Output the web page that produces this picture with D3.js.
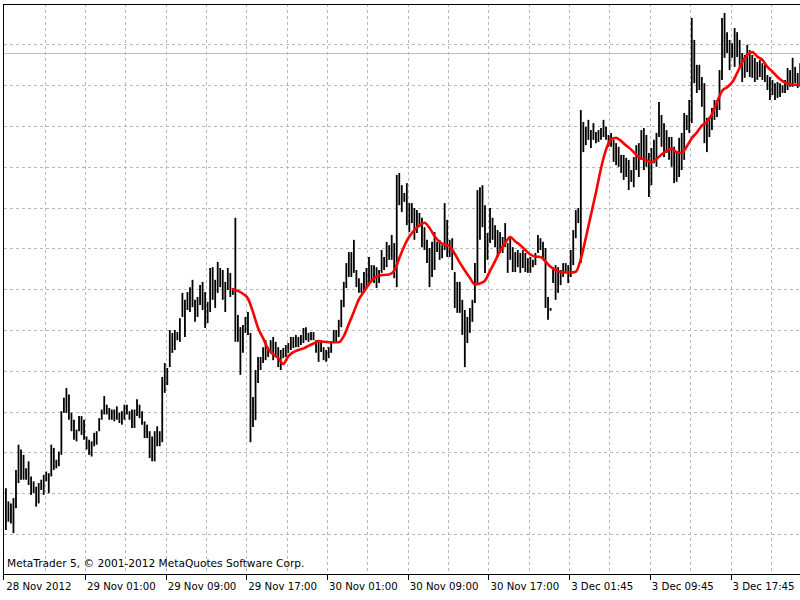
<!DOCTYPE html>
<html><head><meta charset="utf-8">
<script src="https://cdn.jsdelivr.net/npm/d3@7"></script>
<style>html,body{margin:0;padding:0;background:#fff;overflow:hidden}</style>
</head><body>
<svg id="chart" width="800" height="600"></svg>
<script>
// ---------- data ----------
const timeLabels = ["28 Nov 2012","29 Nov 01:00","29 Nov 09:00","29 Nov 17:00","30 Nov 01:00","30 Nov 09:00","30 Nov 17:00","3 Dec 01:45","3 Dec 09:45","3 Dec 17:45"];
const barsPerLabel = 32;
const barsPerGrid = 16;
const gridPrices = [1.2920,1.2930,1.2940,1.2950,1.2960,1.2970,1.2980,1.2990,1.3000,1.3010,1.3020,1.3030,1.3040];
const bidPrice = 1.30379;
const watermark = "MetaTrader 5, \u00A9 2001-2012 MetaQuotes Software Corp.";

const high = [
1.29312,1.29280,1.29275,1.29288,1.29357,1.29419,1.29407,1.29394,1.29361,1.29378,1.29341,1.29329,1.29316,1.29325,1.29333,1.29345,
1.29353,1.29349,1.29419,1.29411,1.29382,1.29402,1.29501,1.29534,1.29558,1.29542,1.29497,1.29480,1.29456,1.29489,1.29489,1.29480,
1.29439,1.29431,1.29427,1.29448,1.29452,1.29484,1.29505,1.29538,1.29517,1.29509,1.29505,1.29505,1.29513,1.29497,1.29501,1.29517,
1.29517,1.29501,1.29505,1.29505,1.29530,1.29517,1.29501,1.29476,1.29468,1.29452,1.29439,1.29452,1.29464,1.29452,1.29585,1.29619,
1.29607,1.29700,1.29693,1.29700,1.29695,1.29729,1.29791,1.29774,1.29793,1.29805,1.29823,1.29774,1.29781,1.29810,1.29818,1.29793,
1.29769,1.29852,1.29854,1.29823,1.29867,1.29852,1.29847,1.29818,1.29852,1.29840,1.29803,1.29975,1.29737,1.29707,1.29712,1.29732,
1.29744,1.29693,1.29536,1.29602,1.29634,1.29634,1.29658,1.29675,1.29658,1.29675,1.29683,1.29671,1.29658,1.29651,1.29656,1.29663,
1.29668,1.29683,1.29683,1.29688,1.29683,1.29688,1.29705,1.29707,1.29693,1.29695,1.29695,1.29675,1.29671,1.29675,1.29658,1.29651,
1.29658,1.29671,1.29700,1.29700,1.29725,1.29774,1.29818,1.29864,1.29891,1.29891,1.29921,1.29847,1.29827,1.29815,1.29842,1.29852,
1.29879,1.29859,1.29859,1.29854,1.29847,1.29896,1.29879,1.29916,1.29908,1.29933,1.29913,1.30080,1.30085,1.30055,1.30036,1.30060,
1.30011,1.30011,1.29999,1.29994,1.29987,1.29975,1.29952,1.29921,1.29901,1.29916,1.29940,1.29916,1.29921,1.29908,1.30011,1.29970,
1.29921,1.29925,1.29842,1.29818,1.29818,1.29774,1.29749,1.29732,1.29754,1.29774,1.29864,1.30043,1.30050,1.30055,1.30006,1.29938,
1.29999,1.29975,1.29957,1.29945,1.29940,1.29928,1.29962,1.29913,1.29925,1.29903,1.29891,1.29896,1.29889,1.29896,1.29889,1.29876,
1.29879,1.29872,1.29889,1.29933,1.29925,1.29916,1.29901,1.29781,1.29754,1.29854,1.29859,1.29854,1.29847,1.29864,1.29864,1.29859,
1.29896,1.29945,1.29994,1.29999,1.30239,1.30210,1.30198,1.30215,1.30190,1.30207,1.30185,1.30190,1.30195,1.30215,1.30198,1.30178,
1.30183,1.30166,1.30158,1.30149,1.30129,1.30129,1.30122,1.30117,1.30092,1.30124,1.30153,1.30158,1.30190,1.30195,1.30178,1.30134,
1.30146,1.30166,1.30183,1.30259,1.30227,1.30207,1.30190,1.30173,1.30173,1.30149,1.30134,1.30171,1.30183,1.30232,1.30227,1.30264,
1.30465,1.30411,1.30350,1.30350,1.30320,1.30305,1.30220,1.30222,1.30244,1.30264,1.30264,1.30337,1.30465,1.30477,1.30430,1.30411,
1.30403,1.30440,1.30430,1.30411,1.30379,1.30374,1.30399,1.30386,1.30374,1.30367,1.30357,1.30362,1.30354,1.30350,1.30325,1.30320,
1.30313,1.30305,1.30308,1.30305,1.30300,1.30313,1.30342,1.30337,1.30367,1.30345,1.30330,1.30354
];
const low = [
1.29210,1.29230,1.29226,1.29202,1.29263,1.29325,1.29333,1.29333,1.29333,1.29320,1.29296,1.29300,1.29267,1.29275,1.29308,1.29296,
1.29329,1.29300,1.29341,1.29357,1.29361,1.29366,1.29394,1.29497,1.29497,1.29480,1.29452,1.29431,1.29427,1.29452,1.29443,1.29431,
1.29407,1.29394,1.29390,1.29415,1.29419,1.29452,1.29480,1.29493,1.29493,1.29480,1.29480,1.29476,1.29480,1.29472,1.29468,1.29480,
1.29493,1.29480,1.29460,1.29460,1.29489,1.29484,1.29468,1.29435,1.29435,1.29386,1.29378,1.29378,1.29415,1.29415,1.29425,1.29546,
1.29565,1.29609,1.29644,1.29651,1.29675,1.29671,1.29732,1.29683,1.29749,1.29744,1.29756,1.29720,1.29732,1.29761,1.29749,1.29705,
1.29717,1.29744,1.29774,1.29754,1.29791,1.29805,1.29774,1.29744,1.29798,1.29781,1.29786,1.29671,1.29671,1.29590,1.29644,1.29693,
1.29688,1.29425,1.29462,1.29479,1.29570,1.29602,1.29619,1.29626,1.29634,1.29646,1.29626,1.29634,1.29609,1.29602,1.29631,1.29634,
1.29644,1.29651,1.29656,1.29658,1.29658,1.29663,1.29668,1.29675,1.29671,1.29675,1.29675,1.29644,1.29622,1.29646,1.29626,1.29622,
1.29631,1.29644,1.29668,1.29671,1.29683,1.29707,1.29756,1.29803,1.29830,1.29830,1.29840,1.29805,1.29791,1.29791,1.29791,1.29805,
1.29815,1.29823,1.29815,1.29803,1.29815,1.29840,1.29847,1.29854,1.29872,1.29872,1.29827,1.29805,1.30006,1.29989,1.30014,1.29957,
1.29940,1.29962,1.29921,1.29938,1.29952,1.29903,1.29896,1.29864,1.29805,1.29830,1.29847,1.29891,1.29872,1.29876,1.29896,1.29879,
1.29879,1.29847,1.29754,1.29742,1.29742,1.29688,1.29609,1.29668,1.29693,1.29720,1.29766,1.29815,1.29921,1.29952,1.29840,1.29872,
1.29913,1.29921,1.29903,1.29879,1.29889,1.29889,1.29903,1.29840,1.29872,1.29842,1.29842,1.29854,1.29840,1.29852,1.29842,1.29840,
1.29840,1.29854,1.29859,1.29889,1.29896,1.29872,1.29754,1.29725,1.29747,1.29815,1.29774,1.29791,1.29810,1.29830,1.29842,1.29815,
1.29830,1.29859,1.29925,1.29962,1.29864,1.30136,1.30153,1.30166,1.30146,1.30166,1.30158,1.30161,1.30166,1.30173,1.30166,1.30149,
1.30149,1.30112,1.30104,1.30100,1.30085,1.30068,1.30075,1.30043,1.30063,1.30050,1.30092,1.30075,1.30117,1.30092,1.30100,1.30026,
1.30055,1.30109,1.30100,1.30173,1.30149,1.30124,1.30134,1.30117,1.30100,1.30060,1.30063,1.30075,1.30092,1.30117,1.30190,1.30183,
1.30207,1.30305,1.30281,1.30288,1.30247,1.30158,1.30136,1.30173,1.30190,1.30215,1.30222,1.30239,1.30313,1.30367,1.30379,1.30337,
1.30367,1.30345,1.30369,1.30345,1.30308,1.30318,1.30332,1.30320,1.30318,1.30308,1.30313,1.30320,1.30313,1.30308,1.30288,1.30264,
1.30276,1.30264,1.30269,1.30271,1.30281,1.30281,1.30288,1.30296,1.30296,1.30305,1.30293,1.30296
];
// moving average (red), read every 2 bars starting at bar 90
const maFirstBar = 90;
const maStep = 2;
const maValues = [
1.29800,1.29796,1.29789,1.29777,1.29744,1.29705,1.29680,1.29653,1.29640,1.29631,
1.29617,1.29636,1.29646,1.29651,1.29655,1.29661,1.29667,1.29673,1.29671,1.29670,
1.29670,1.29670,1.29685,1.29715,1.29745,1.29775,1.29794,1.29813,1.29827,1.29833,
1.29835,1.29836,1.29845,1.29876,1.29906,1.29929,1.29945,1.29956,1.29963,1.29950,
1.29930,1.29916,1.29909,1.29905,1.29887,1.29865,1.29846,1.29828,1.29812,1.29814,
1.29821,1.29845,1.29869,1.29894,1.29913,1.29928,1.29917,1.29908,1.29896,1.29885,
1.29880,1.29879,1.29868,1.29855,1.29847,1.29842,1.29841,1.29841,1.29843,1.29874,
1.29926,1.29982,1.30037,1.30096,1.30142,1.30167,1.30171,1.30163,1.30152,1.30142,
1.30129,1.30120,1.30116,1.30111,1.30119,1.30130,1.30139,1.30144,1.30136,1.30134,
1.30150,1.30170,1.30184,1.30201,1.30210,1.30229,1.30258,1.30286,1.30295,1.30307,
1.30330,1.30356,1.30375,1.30381,1.30370,1.30362,1.30345,1.30333,1.30320,1.30310,
1.30304,1.30301,1.30301,1.30301
];

// ---------- layout ----------
const W = 800, H = 600;
const L = 4, T = 4, B = 574, R = 800;
const svg = d3.select("#chart");
const x = d3.scaleLinear().domain([0, barsPerLabel]).range([4.3, 84.99]);
const y = d3.scaleLinear().domain([1.2920, 1.3050]).range([534, 3.6]);
const barShift = 1.6;
const font = "'DejaVu Sans', Verdana, sans-serif";

svg.append("rect").attr("width", W).attr("height", H).attr("fill", "#fff");
svg.append("defs").append("clipPath").attr("id", "plot")
  .append("rect").attr("x", L).attr("y", T).attr("width", R - L).attr("height", B - T);

const plot = svg.append("g").attr("clip-path", "url(#plot)");

// grid
const nBars = high.length;
const vGrid = d3.range(barsPerGrid, nBars + barsPerGrid, barsPerGrid);
plot.append("g").selectAll("line").data(vGrid).join("line")
  .attr("x1", d => Math.round(x(d)) + 0.5).attr("x2", d => Math.round(x(d)) + 0.5)
  .attr("y1", T).attr("y2", B)
  .attr("stroke", "#b8b8b8").attr("stroke-width", 1).attr("stroke-dasharray", "3,3");
plot.append("g").selectAll("line").data(gridPrices).join("line")
  .attr("x1", L).attr("x2", R)
  .attr("y1", d => Math.round(y(d)) + 0.5).attr("y2", d => Math.round(y(d)) + 0.5)
  .attr("stroke", "#b8b8b8").attr("stroke-width", 1).attr("stroke-dasharray", "3,3");

// bid line
plot.append("line").attr("x1", L).attr("x2", R)
  .attr("y1", Math.round(y(bidPrice)) + 0.5).attr("y2", Math.round(y(bidPrice)) + 0.5)
  .attr("stroke", "#c0c0c0").attr("stroke-width", 1);

// bars
const bars = high.map((h, i) => ({ i, h, l: low[i] }));
plot.append("g").selectAll("line").data(bars).join("line")
  .attr("x1", d => x(d.i) + barShift).attr("x2", d => x(d.i) + barShift)
  .attr("y1", d => y(d.h)).attr("y2", d => y(d.l))
  .attr("stroke", "#000").attr("stroke-width", 1.8);

// moving average
const ma = maValues.map((v, k) => ({ i: maFirstBar + k * maStep, v }));
plot.append("path").datum(ma)
  .attr("fill", "none").attr("stroke", "#ff0000").attr("stroke-width", 2.6)
  .attr("stroke-linejoin", "round").attr("stroke-linecap", "round")
  .attr("d", d3.line().x(d => x(d.i) + barShift).y(d => y(d.v)).curve(d3.curveMonotoneX));

// frame
svg.append("line").attr("x1", L).attr("x2", R).attr("y1", T + 0.5).attr("y2", T + 0.5).attr("stroke", "#000");
svg.append("line").attr("x1", L).attr("x2", R).attr("y1", B + 0.5).attr("y2", B + 0.5).attr("stroke", "#000");
svg.append("line").attr("x1", L - 0.5).attr("x2", L - 0.5).attr("y1", T).attr("y2", B + 6).attr("stroke", "#000");

// time axis ticks & labels
const labelBars = timeLabels.map((t, k) => ({ t, i: k * barsPerLabel }));
const ax = svg.append("g");
ax.selectAll("line").data(labelBars.filter(d => d.i > 0)).join("line")
  .attr("x1", d => Math.round(x(d.i)) + 0.5).attr("x2", d => Math.round(x(d.i)) + 0.5)
  .attr("y1", B).attr("y2", B + 6).attr("stroke", "#000");
ax.selectAll("text").data(labelBars).join("text")
  .attr("x", d => x(d.i) + 2).attr("y", 590)
  .attr("font-family", font).attr("font-size", 10.2).attr("fill", "#000")
  .text(d => d.t);

// watermark
svg.append("text").attr("x", 7).attr("y", 567)
  .attr("font-family", font).attr("font-size", 10.6).attr("fill", "#000")
  .text(watermark);
</script>
</body></html>
